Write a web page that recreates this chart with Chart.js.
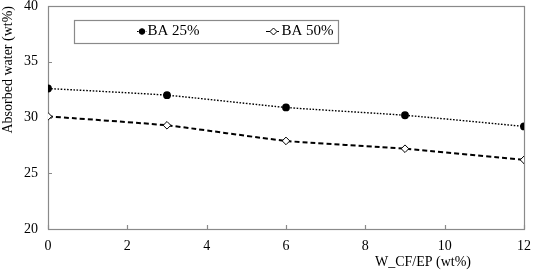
<!DOCTYPE html>
<html>
<head>
<meta charset="utf-8">
<script src="https://cdn.jsdelivr.net/npm/chart.js@4.4.0/dist/chart.umd.min.js"></script>
<style>
  html, body { margin: 0; padding: 0; background: #fff; }
  #wrap { width: 533px; height: 272px; }
</style>
</head>
<body>
<div id="wrap"><canvas id="myChart"></canvas></div>
<script>
// data
const cfContent = [0, 3, 6, 9, 12];
const ba25 = [32.6, 32.0, 30.9, 30.2, 29.2];
const ba50 = [30.1, 29.3, 27.9, 27.2, 26.2];
const seriesNames = ['BA 25%', 'BA 50%'];
const xTitle = 'W_CF/EP (wt%)';
const yTitle = 'Absorbed water (wt%)';

const serif = "'Liberation Serif', 'Times New Roman', serif";
const axisGray = '#8a8a8a';

function pts(xs, ys) {
    return xs.map((x, i) => ({ x: x, y: ys[i] }));
}

// box round the plot, inward ticks, legend box, x title
const framePlugin = {
    id: 'frame',
    beforeDatasetsDraw(chart) {
        const c = chart.ctx;
        const a = chart.chartArea;
        c.save();
        c.strokeStyle = axisGray;
        c.lineWidth = 1.2;
        c.strokeRect(a.left + 0.5, a.top + 0.5, a.right - a.left, a.bottom - a.top);
        // inward tick marks
        const xs = chart.scales.x, ys = chart.scales.y;
        c.beginPath();
        xs.ticks.forEach(t => {
            const px = Math.round(xs.getPixelForValue(t.value)) + 0.5;
            c.moveTo(px, a.bottom);
            c.lineTo(px, a.bottom - 4);
        });
        ys.ticks.forEach(t => {
            const py = Math.round(ys.getPixelForValue(t.value)) + 0.5;
            c.moveTo(a.left, py);
            c.lineTo(a.left + 4, py);
        });
        c.stroke();
        c.restore();
    },
    afterDraw(chart) {
        const c = chart.ctx;
        c.save();
        // legend
        c.strokeStyle = axisGray;
        c.lineWidth = 1.2;
        c.strokeRect(74.5, 20.5, 264, 23);
        const items = [
            { x0: 137, x1: 147, tx: 147.5 },
            { x0: 266, x1: 281, tx: 281.5 }
        ];
        const ly = 31.5;
        chart.data.datasets.forEach((ds, i) => {
            const it = items[i];
            c.setLineDash(ds.borderDash);
            c.strokeStyle = '#000';
            c.lineWidth = 1.2;
            c.beginPath();
            c.moveTo(it.x0, ly);
            c.lineTo(it.x1, ly);
            c.stroke();
            c.setLineDash([]);
            const mx = (it.x0 + it.x1) / 2;
            c.fillStyle = ds.pointBackgroundColor;
            c.strokeStyle = '#000';
            c.lineWidth = 1;
            c.beginPath();
            if (ds.pointStyle === 'rectRot') {
                c.moveTo(mx, ly - 3.5);
                c.lineTo(mx + 3.5, ly);
                c.lineTo(mx, ly + 3.5);
                c.lineTo(mx - 3.5, ly);
                c.closePath();
            } else {
                c.arc(mx, ly, 2.8, 0, Math.PI * 2);
            }
            c.fill();
            c.stroke();
            c.fillStyle = '#000';
            c.font = '15px ' + serif;
            c.textAlign = 'left';
            c.textBaseline = 'middle';
            c.fillText(ds.label, it.tx, ly);
        });
        // x axis title, set off to the right like the original
        c.font = '14px ' + serif;
        c.textAlign = 'center';
        c.textBaseline = 'middle';
        c.fillStyle = '#000';
        c.fillText(xTitle, 423, 262);
        c.restore();
    }
};

const ctx = document.getElementById('myChart').getContext('2d');
const myChart = new Chart(ctx, {
    type: 'line',
    data: {
        datasets: [
            {
                label: seriesNames[0],
                data: pts(cfContent, ba25),
                borderColor: '#000',
                borderWidth: 1.4,
                borderDash: [1.6, 1.6],
                pointStyle: 'circle',
                pointRadius: 3.2,
                pointBackgroundColor: '#000',
                pointBorderColor: '#000',
                tension: 0.15,
                fill: false
            },
            {
                label: seriesNames[1],
                data: pts(cfContent, ba50),
                borderColor: '#000',
                borderWidth: 2,
                borderDash: [5, 3],
                pointStyle: 'rectRot',
                pointRadius: 3.8,
                pointBorderWidth: 1,
                pointBackgroundColor: '#fff',
                pointBorderColor: '#000',
                tension: 0.15,
                fill: false
            }
        ]
    },
    options: {
        responsive: true,
        maintainAspectRatio: false,
        animation: false,
        layout: { padding: { top: 6, right: 9, left: 0, bottom: 0 } },
        plugins: {
            legend: { display: false },
            tooltip: { enabled: false }
        },
        scales: {
            x: {
                type: 'linear',
                min: 0,
                max: 12,
                grid: { display: false, drawTicks: false },
                border: { display: false },
                ticks: {
                    stepSize: 2,
                    padding: 9,
                    color: '#000',
                    maxRotation: 0,
                    font: { family: serif, size: 14 }
                },
                afterFit(scale) {
                    scale.height = 43;
                    scale.paddingLeft = 0;
                    scale.paddingRight = 0;
                }
            },
            y: {
                min: 20,
                max: 40,
                grid: { display: false, drawTicks: false },
                border: { display: false },
                ticks: {
                    stepSize: 5,
                    padding: 10,
                    color: '#000',
                    font: { family: serif, size: 14 }
                },
                title: {
                    display: true,
                    text: yTitle,
                    align: 'end',
                    color: '#000',
                    padding: 0,
                    font: { family: serif, size: 14 }
                },
                afterFit(scale) {
                    scale.width = 48;
                    scale.paddingTop = 0;
                    scale.paddingBottom = 0;
                }
            }
        }
    },
    plugins: [framePlugin]
});
</script>
</body>
</html>
